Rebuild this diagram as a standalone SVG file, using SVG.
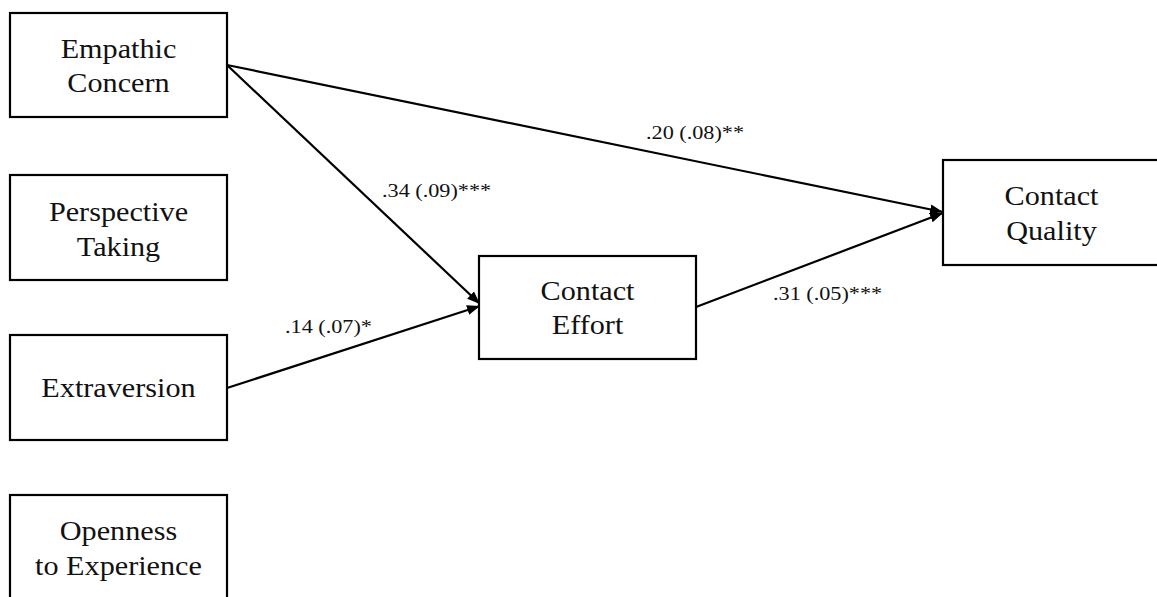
<svg xmlns="http://www.w3.org/2000/svg" width="1157" height="597" viewBox="0 0 1157 597">
<style>
.box{fill:#fff;stroke:#000;stroke-width:2.2}
.lbl{font-family:"Liberation Serif","Times New Roman",serif;font-size:26.5px;fill:#111;text-anchor:middle}
.el{font-family:"Liberation Serif","Times New Roman",serif;font-size:19.5px;fill:#111}
.conn{stroke:#000;stroke-width:2.2;fill:none;marker-end:url(#ah)}
</style>
<defs>
<marker id="ah" markerUnits="userSpaceOnUse" markerWidth="14" markerHeight="12" refX="13" refY="6" orient="auto">
<path d="M0,1 L13,6 L0,11 Z" fill="#000"/>
</marker>
</defs>
<rect width="1157" height="597" fill="#fff"/>
<g id="connectors">
<line class="conn" x1="227" y1="65" x2="943" y2="212"/>
<line class="conn" x1="227" y1="65" x2="480" y2="304"/>
<line class="conn" x1="227" y1="388" x2="480" y2="306"/>
<line class="conn" x1="696" y1="307" x2="943" y2="213"/>
<text class="el" transform="translate(646,139) scale(1.14,1)">.20 (.08)**</text>
<text class="el" transform="translate(382,197) scale(1.14,1)">.34 (.09)***</text>
<text class="el" transform="translate(285,333) scale(1.14,1)">.14 (.07)*</text>
<text class="el" transform="translate(773,300) scale(1.14,1)">.31 (.05)***</text>
</g>
<g id="empathic-concern">
<rect class="box" x="10" y="13" width="217" height="104"/>
<text class="lbl" transform="translate(118.5,58) scale(1.14,1)">Empathic</text>
<text class="lbl" transform="translate(118.5,92) scale(1.14,1)">Concern</text>
</g>
<g id="perspective-taking">
<rect class="box" x="10" y="175" width="217" height="105"/>
<text class="lbl" transform="translate(118.5,221) scale(1.14,1)">Perspective</text>
<text class="lbl" transform="translate(118.5,256) scale(1.14,1)">Taking</text>
</g>
<g id="extraversion">
<rect class="box" x="10" y="335" width="217" height="105"/>
<text class="lbl" transform="translate(118.5,397) scale(1.14,1)">Extraversion</text>
</g>
<g id="openness">
<rect class="box" x="10" y="495" width="217" height="105"/>
<text class="lbl" transform="translate(118.5,540) scale(1.14,1)">Openness</text>
<text class="lbl" transform="translate(118.5,575) scale(1.14,1)">to Experience</text>
</g>
<g id="contact-effort">
<rect class="box" x="479" y="256" width="217" height="103"/>
<text class="lbl" transform="translate(587.5,300) scale(1.14,1)">Contact</text>
<text class="lbl" transform="translate(587.5,334) scale(1.14,1)">Effort</text>
</g>
<g id="contact-quality">
<rect class="box" x="943" y="160" width="217" height="105"/>
<text class="lbl" transform="translate(1051.5,205) scale(1.14,1)">Contact</text>
<text class="lbl" transform="translate(1051.5,240) scale(1.14,1)">Quality</text>
</g>
</svg>
